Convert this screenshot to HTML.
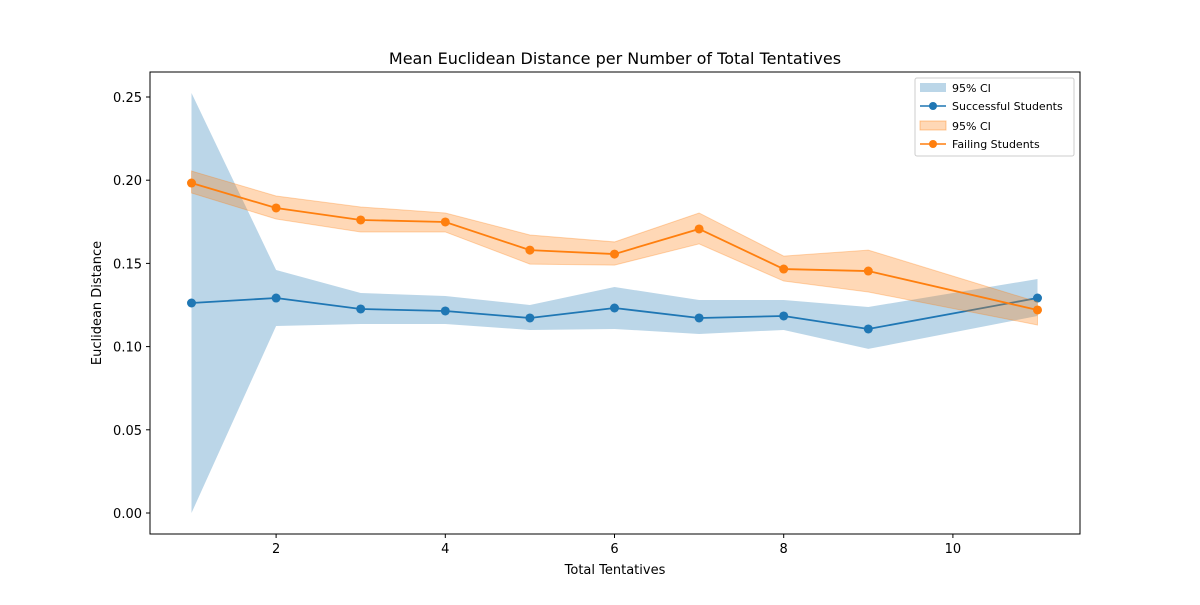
<!DOCTYPE html>
<html><head><meta charset="utf-8"><style>
body{margin:0;background:#fff;font-family:"Liberation Sans","DejaVu Sans",sans-serif;}
svg text{font-family:"DejaVu Sans","Liberation Sans",sans-serif;}
</style></head><body>
<svg id="chart" width="1200" height="600" xmlns="http://www.w3.org/2000/svg">
<rect width="1200" height="600" fill="#fff"/>
<text x="615" y="64" text-anchor="middle" font-size="16">Mean Euclidean Distance per Number of Total Tentatives</text>
<g id="plot"></g>
<rect x="150" y="72" width="930" height="462" fill="none" stroke="#000" stroke-width="1"/>
<text x="615" y="574" text-anchor="middle" font-size="13">Total Tentatives</text>
<text transform="translate(101,303) rotate(-90)" text-anchor="middle" font-size="13">Euclidean Distance</text>
<g>
<rect x="915" y="78" width="159" height="78" fill="#fff" fill-opacity="0.8" stroke="#ccc" rx="2"/>
<rect x="920" y="83" width="26" height="9" fill="#1f77b4" fill-opacity="0.3"/>
<text x="952" y="92" font-size="11">95% CI</text>
<line x1="920" y1="106" x2="946" y2="106" stroke="#1f77b4" stroke-width="1.5"/><circle cx="933" cy="106" r="4" fill="#1f77b4"/>
<text x="952" y="110" font-size="11">Successful Students</text>
<rect x="920" y="121" width="26" height="9" fill="#ff7f0e" fill-opacity="0.3" stroke="#ff7f0e" stroke-opacity="0.4"/>
<text x="952" y="130" font-size="11">95% CI</text>
<line x1="920" y1="144" x2="946" y2="144" stroke="#ff7f0e" stroke-width="1.5"/><circle cx="933" cy="144" r="4" fill="#ff7f0e"/>
<text x="952" y="148" font-size="11">Failing Students</text>
</g>
</svg>
<script>
const xs=[1,2,3,4,5,6,7,8,9,11];
const succMean=[0.1262,0.1292,0.1226,0.1214,0.1172,0.1232,0.1172,0.1184,0.1106,0.1292];
const succLo=[0.0,0.1124,0.1136,0.1136,0.11,0.1106,0.1076,0.11,0.0986,0.1184];
const succHi=[0.2524,0.146,0.1322,0.1304,0.125,0.1358,0.128,0.128,0.1238,0.1406];
const failMean=[0.1983,0.1833,0.1761,0.1749,0.158,0.1556,0.1707,0.1466,0.1454,0.122];
const failLo=[0.1923,0.1767,0.1689,0.1689,0.1496,0.149,0.1617,0.1394,0.1328,0.113];
const failHi=[0.2055,0.1905,0.1839,0.1803,0.1671,0.1629,0.1803,0.1544,0.158,0.1268];
const xTicks=[2,4,6,8,10];
const yTicks=[0,0.05,0.1,0.15,0.2,0.25];
const NS="http://www.w3.org/2000/svg";
const X=v=>191.5+(v-1)*84.6;
const Y=v=>513-v*1664;
const g=document.getElementById('plot');
function mk(t,a){const e=document.createElementNS(NS,t);for(const k in a)e.setAttribute(k,a[k]);g.appendChild(e);return e;}
function band(lo,hi,col,name,stroke){
 let d='M'+xs.map((x,i)=>X(x)+','+Y(hi[i])).join('L');
 d+='L'+xs.slice().reverse().map((x,j)=>{const i=xs.length-1-j;return X(x)+','+Y(lo[i]);}).join('L')+'Z';
 const p=mk('path',{d:d,fill:col,'fill-opacity':0.3,stroke:stroke?col:'none','stroke-opacity':0.3});
 
 
}
function series(m,col,name){
 const p=mk('polyline',{points:xs.map((x,i)=>X(x)+','+Y(m[i])).join(' '),fill:'none',stroke:col,'stroke-width':1.8});
 
 
 xs.forEach((x,i)=>{const c=mk('circle',{cx:X(x),cy:Y(m[i]),r:4.5,fill:col});
 
 });
}
band(succLo,succHi,'#1f77b4','successful-ci-band',false);
series(succMean,'#1f77b4','successful');
band(failLo,failHi,'#ff7f0e','failing-ci-band',true);
series(failMean,'#ff7f0e','failing');
xTicks.forEach(t=>{mk('line',{x1:X(t),x2:X(t),y1:534,y2:538,stroke:'#000'});
 const l=mk('text',{x:X(t),y:553,'text-anchor':'middle','font-size':13});l.textContent=t;
 
 });
yTicks.forEach(t=>{mk('line',{x1:146,x2:150,y1:Y(t),y2:Y(t),stroke:'#000'});
 const l=mk('text',{x:142,y:Y(t)+5,'text-anchor':'end','font-size':13});l.textContent=t.toFixed(2);
 
 });
</script>
</body></html>
